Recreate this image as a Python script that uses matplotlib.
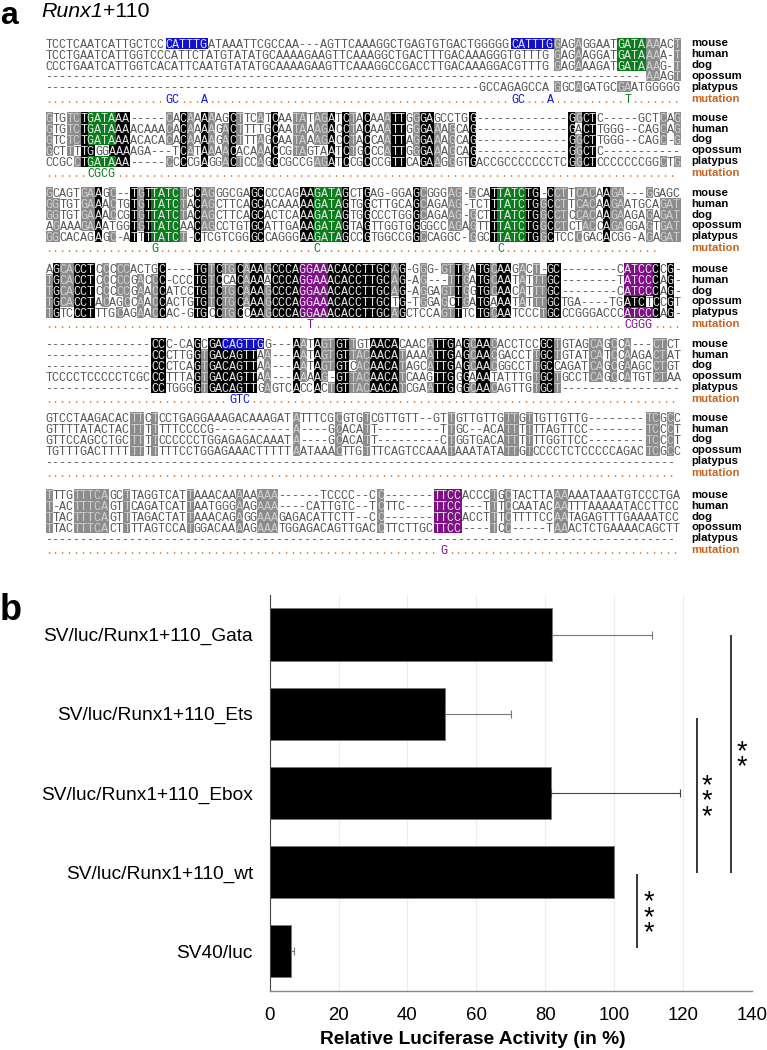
#! /usr/bin/env python3
from itertools import groupby
import matplotlib
matplotlib.use('Agg')
import matplotlib.pyplot as plt
from matplotlib.patches import Rectangle

species = ['mouse', 'human', 'dog', 'opossum', 'platypus']

BLUE = '#1212cc'
GREEN = '#0b7d1c'
PURPLE = '#7f0f86'
GREY = '#8c8c8c'

# alignment blocks, 90 columns each
block1 = [
  'TCCTCAATCATTGCTCCCATTTGATAAATTCGCCAA---AGTTCAAAGGCTGAGTGTGACTGGGGGCATTTGGAGAGGAATGATAAAACT',
  'TCCTGAATCATTGGTCCCATTCTATGTATATGCAAAAGAAGTTCAAAGGCTGACTTTGACAAAGGGTGTTTGGAGAAGGATGATAAAA-T',
  'CCCTGAATCATTGGTCACATTCAATGTATATGCAAAAGAAGTTCAAAGGCCGACCTTGACAAAGGACGTTTGGAGAAAGATGATAAAG-T',
  '-'*85 + 'AAAGT',
  '-'*62 + 'GCCAGAGCCAGGCAGATGCGAATGGGGG',
]
block1_mut = '.'*17 + 'GC...A' + '.'*43 + 'GC...A' + '.'*10 + 'T' + '.'*7
block1_motifs = [([0], 17, 6, BLUE), ([0], 66, 6, BLUE), ([0, 1, 2], 81, 4, GREEN)]

block2 = [
  'GTGTCTGATAAA-----CACAAAAAGCTTCATCAATATAGATCTACAAATTGGGAGCCTGG-------------GGCTC-----GCTCAG',
  'GTGTCTGATAAAACAAACACAAAAGACTTTTGCAATAAAGACCTACAAATTGGGAAAGCAG-------------GACTTGGG--CAGCAG',
  'GTCTCTGATAAAACACACACAAAAGACTTTAGCAATAAAGACCTACCAATTAGGAAAGCAG-------------GGCTTGGG--CAGC-G',
  'GCTTTTGGGAAAAGA---TCATAAAACACAAACCGTAGTAATCTGCCCATTGGGAAAGCAG-------------GGCTC' + '-'*11,
  'CCGCCTGATAAA-----CCCCGAGGACTCCAGCCGCCGAGATCCGCCCGTTCAGAAGGGTGACCGCCCCCCCTCGGCTCCCCCCCGGCTG',
]
block2_mut = '.'*6 + 'CGCG' + '.'*80
block2_motifs = [([0, 1, 2, 4], 6, 4, GREEN)]

block3 = [
  'GCAGTGAAGC--TGTTATCTCCAGGGCGAGCCCCAGAAGATAGCTGAG-GGAGCGGGAG-GCATTATCTG-CCTTCACAAGA---GGAGC',
  'GGTGTGAAACTGTGTTATCTACAGCTTCAGCACAAAAAGATAGTGGCTTGCAGCAGAAG-TCTTTATCTGGCCTTCACAAGAATGCAGAT',
  'GGTGTGAAACCGTGTTATCTACAGCTTCAGCACTCAAAGATAGTGGCCCTGGGCAGAAG-GCTTTATCTGGCCTCCACAAGAAGAGAGAT',
  'AGAAAGAAATGGTGTTATCAACAGCCTGTGCATTGAAAGATAGTAGTTGGTGGGGCCAGAGTTTTATCTGGCCTCTACCAGAGGAGTGAT',
  'GGCACAGAGC-ATTTTATCT-CTCGTCGGGCCAGGGAAGATAGCCGTGGCCGGCCAGGC-GGCTTATCTGGCTCCCGACACGG-AGAGAT',
]
block3_mut = '.'*15 + 'G' + '.'*22 + 'C' + '.'*25 + 'C' + '.'*22
block3_motifs = [([0, 1, 2, 3, 4], 15, 4, GREEN), ([0, 1, 2, 3, 4], 38, 4, GREEN), ([0, 1, 2, 3, 4], 64, 4, GREEN)]

block4 = [
  'AGCACCTCCCCCACTGC----TGTCTGCAAAGCCCAGGAAACACCTTGCAG-GGG-GTTGATGCAAGACT-GC--------CATCCCCG-',
  'TGCACCTCCCCCGACCC-CCCTGTCCACAAAACCCAGGAAACACCTTGCAG-AG---TTGATGCAATATTTGC--------TATCCCAG-',
  'TGCACCTCCCCCGAACCATCCTGTCTGCAAAGCCCAGGAAACACCTTGCAG-AGGAGTTGGTGCAACATTTGC--------CATCCCAG-',
  'TGCACCTACAGCCAACCACTGTGTCTGCAAAGCCCAGGAAACACCTTGCTG-TGGAGCTGATGAAATATTTGCTGA----TGATCTCCGT',
  'TGTCCCTTTGCAGAACCAC-GTGCCTGCCAAGCCCAGGAAACACCTTGCAGCTCCAGTTTCTGCAATCCCTGCCCGGGACCCATCCCAG-',
]
block4_mut = '.'*37 + 'T' + '.'*44 + 'CGGG' + '.'*4
block4_motifs = [([0, 1, 2, 3, 4], 36, 4, PURPLE), ([0, 1, 2, 4], 82, 4, PURPLE)]

block5 = [
  '-'*15 + 'CCC-CAGCGACAGTTGG---AATAGTGTTGTAACACAACATTGAGCAACACCTCCGCTGTAGCAGCCA---CTCT',
  '-'*15 + 'CCCTTGGTGACAGTTAA---AATAGTGTTACAACATAAAATTGAGCAACGACCTTGCTGTATCATCCAAGACTAT',
  '-'*15 + 'CCCTCAGTGACAGTTAA---AATAGTGTCACAACATAGCATTGAGCAACGGCCTTGCCAGATCAGCGAAGCCTGT',
  'TCCCCTCCCCCTCGCCCTTTAGTGACAGTTAA---AAAAG-GTTACAACATCAAGTTGGGAAATATTTGTGCTGCCTCAGCCATGTCTAA',
  '-'*15 + 'CCTGGGGTGACAGTTGAGTCACCACTGTTACAACATCGAATTGGGCAACAGTTGTGCT' + '-'*17,
]
block5_mut = '.'*26 + 'GTC' + '.'*61
block5_motifs = [([0], 25, 6, BLUE)]

block6 = [
  'GTCCTAAGACACTTCTCCTGAGGAAAGACAAAGATATTTCGCGTGTCGTTGTT--GTTGTTGTTGTTGTTGTTGTTG--------TCGCC',
  'GTTTTATACTACTTTTTTTCCCCG-----------A----GCACATT---------TTGC--ACATTTTTTAGTTCC--------TCCCT',
  'GTTCCAGCCTGCTTTTCCCCCCTGGAGAGACAAATA----GCACATT---------CTGGTGACATTTTTTGGTTCC--------TCCCT',
  'TGTTTGACTTTTTTTTTTTCCTGGAGAAACTTTTTAATAAACTTGTTTCAGTCCAAATAAATATATTGTCCCCTCTCCCCCAGACTCGCC',
  '-'*90,
]
block6_mut = '.'*90
block6_motifs = []

block7 = [
  'TTTGTTTCAGCTTAGGTCATTAAACAAAAAAAA------TCCCC--CC-------TTCCACCCTGCTACTTAAAAAATAAATGTCCCTGA',
  'T-ACTTTCAGTTCAGATCATTAATGGGAAGAAA----CATTGTC--TCTTC----TTCC---TTTCCAATACAATTTAAAAATACCTTCC',
  'TTACTTTCAGTTTAGACTATTAAACAGAGGAAAGAGACATTCTT--CC-------TTCCACCTTTCTTTTCCAATAGAGTTTGAAAATCC',
  'TTACTTTCACTTTTAGTCCATGGACAAAAGAAATGGAGACAGTTGACCTTCTTGCTTCC----TCC-----TAAACTCTGAAAACAGCTT',
  '-'*90,
]
block7_mut = '.'*56 + 'G' + '.'*33
block7_motifs = [([0, 1, 2, 3], 55, 4, PURPLE)]

blocks = [block1, block2, block3, block4, block5, block6, block7]
muts = [block1_mut, block2_mut, block3_mut, block4_mut, block5_mut, block6_mut, block7_mut]
motifs = [block1_motifs, block2_motifs, block3_motifs, block4_motifs,
  block5_motifs, block6_motifs, block7_motifs]

# bar chart values
constructs = ['SV/luc/Runx1+110_Gata', 'SV/luc/Runx1+110_Ets', 'SV/luc/Runx1+110_Ebox',
  'SV/luc/Runx1+110_wt', 'SV40/luc']
activity = [82, 51, 81.7, 100, 6.2]
activity_err = [29, 19, 37.3, 0, 1]
err_color = ['#777777', '#777777', '#444444', '#444444', '#777777']
xticks = [0, 20, 40, 60, 80, 100, 120, 140]
sig_x = [106.7, 123.9, 133.8]
sig_from = [3.03, 1.05, 0.0]
sig_to = [3.96, 3.01, 3.01]
sig_label = ['*\n*\n*', '*\n*\n*', '*\n*']
sig_label_x = [110, 126.8, 137]
sig_label_y = [3.58, 2.11, 1.58]

# layout in pixels of the 767x1050 image
block_y = [43.3, 117.7, 192.7, 268.7, 343.7, 417.7, 494.7]
row_h = 10.9
mut_gap = 11.6
col_w = 7.06
x0 = 45.5
mono = 'Liberation Mono'
seq_size = col_w/(0.6*100./72.)

fig = plt.figure(figsize = (7.67, 10.5), dpi = 100)
plt.rcParams['font.family'] = ['Liberation Sans', 'DejaVu Sans']
px = fig.add_axes([0, 0, 1, 1])
px.set_xlim(0, 767)
px.set_ylim(1050, 0)
px.axis('off')

def draw_runs(y, chars, colors, size):
  i = 0
  for color, grp in groupby(colors):
    n = len(list(grp))
    s = chars[i:i+n]
    if s.strip():
      px.text(x0 + i*col_w, y, s, color = color, family = mono, size = size,
        ha = 'left', va = 'center_baseline')
    i += n

def draw_block(seqs, mut, mot, ytop):
  ncol = len(seqs[0])
  fills = [[None]*ncol for s in seqs]
  # conservation shading, gaps do not count
  for c in range(ncol):
    col = [s[c] for s in seqs]
    for base in 'ACGT':
      n = col.count(base)
      if n == 5:
        shade = 'k'
      elif n == 4:
        shade = GREY
      else:
        continue
      for r in range(5):
        if col[r] == base:
          fills[r][c] = shade
  for rows, start, length, color in mot:
    for r in rows:
      for c in range(start, start + length):
        fills[r][c] = color
  for r in range(5):
    y = ytop + r*row_h
    i = 0
    for color, grp in groupby(fills[r]):
      n = len(list(grp))
      if color is not None:
        px.add_patch(Rectangle((x0 + i*col_w, y - row_h/2.), n*col_w, row_h,
          fc = color, ec = 'none', antialiased = False))
      i += n
    tcolor = []
    for f in fills[r]:
      if f is None:
        tcolor.append('#555555')
      elif f == GREY:
        tcolor.append('#cfcfcf')
      else:
        tcolor.append('#e6e6e6')
    draw_runs(y, seqs[r], tcolor, seq_size)
    px.text(691, y, species[r], weight = 'bold', size = 8.2, ha = 'left', va = 'center')
  # mutation row
  y = ytop + 4*row_h + mut_gap
  mcolor = ['#d98a45']*ncol
  for rows, start, length, color in mot:
    for c in range(start, start + length):
      if mut[c] != '.':
        mcolor[c] = color
  draw_runs(y, mut, mcolor, seq_size)
  px.text(691, y, 'mutation', weight = 'bold', size = 8.2, color = '#c8641e', ha = 'left', va = 'center')

for seqs, mut, mot, ytop in zip(blocks, muts, motifs, block_y):
  draw_block(seqs, mut, mot, ytop)

px.text(0, 12, 'a', weight = 'bold', size = 23, ha = 'left', va = 'center_baseline')
px.text(41.6, 11.5, 'Runx1', style = 'italic', size = 15.4, ha = 'left', va = 'center')
px.text(103.4, 11.5, '+110', size = 15.4, ha = 'left', va = 'center')
px.text(0, 607, 'b', weight = 'bold', size = 26, ha = 'left', va = 'center_baseline')
px.text(473, 1039, 'Relative Luciferase Activity (in %)', weight = 'bold', size = 13.8,
  ha = 'center', va = 'center')

# bar chart
ax = fig.add_axes([269.6/767., (1050 - 990.7)/1050., (752 - 269.6)/767., 395.7/1050.])
ax.patch.set_alpha(0)
ypos = list(range(len(constructs)))
ax.barh(ypos, activity, height = 0.66, color = 'k', edgecolor = '#777777', linewidth = 0.6, zorder = 2)
for i in ypos:
  if activity_err[i] > 0:
    ax.errorbar(activity[i], i, xerr = [[0], [activity_err[i]]], color = err_color[i],
      lw = 0.8, capsize = 3, capthick = 0.8, zorder = 3)
ax.set_xlim(0, 140)
ax.set_ylim(4.5, -0.5)
ax.set_xticks(xticks)
ax.set_yticks(ypos)
ax.set_yticklabels(constructs)
ax.tick_params(axis = 'y', length = 0, pad = 12, labelsize = 13.8)
ax.tick_params(axis = 'x', length = 0, pad = 12, labelsize = 13.4)
ax.grid(axis = 'x', color = '#ececec', lw = 0.8, zorder = 0)
ax.spines['top'].set_visible(False)
ax.spines['right'].set_visible(False)
ax.spines['left'].set_color('#444444')
ax.spines['left'].set_linewidth(0.8)
ax.spines['bottom'].set_color('#888888')
ax.spines['bottom'].set_linewidth(1.0)

ax.vlines(sig_x, sig_from, sig_to, color = 'k', lw = 1.1, zorder = 3)
for lx, ly, s in zip(sig_label_x, sig_label_y, sig_label):
  ax.text(lx, ly, s, size = 19.5, linespacing = 0.465, ha = 'center', va = 'center', clip_on = False)

fig.savefig('out.png', dpi = 100)
